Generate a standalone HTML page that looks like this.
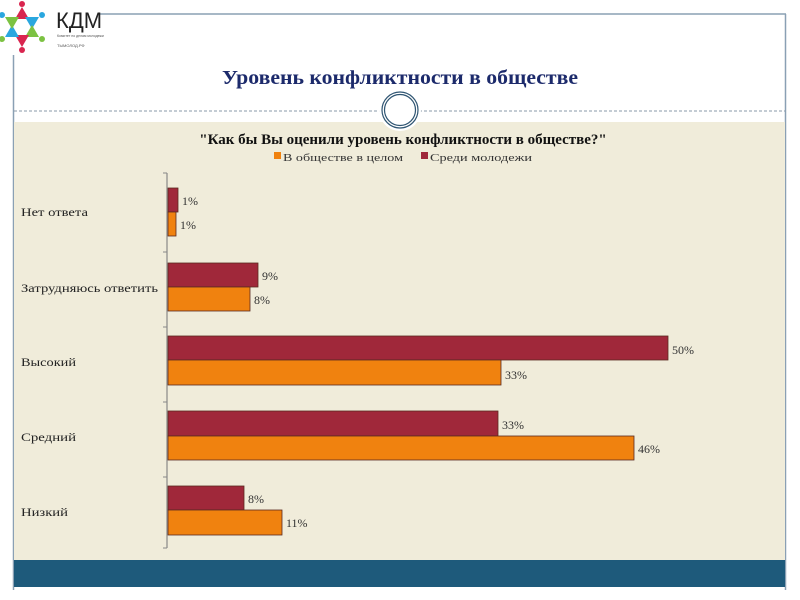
<!DOCTYPE html>
<html><head><meta charset="utf-8"><style>
html,body{margin:0;padding:0;background:#fff;width:800px;height:600px;overflow:hidden}
svg{display:block}
text{font-family:"Liberation Serif",serif}
</style></head><body>
<svg width="800" height="600" viewBox="0 0 800 600">
<line x1="100" y1="14" x2="786" y2="14" stroke="#8aa0b4" stroke-width="1.5"/>
<line x1="13.5" y1="55" x2="13.5" y2="590" stroke="#8aa0b4" stroke-width="1.5"/>
<line x1="785.5" y1="14" x2="785.5" y2="590" stroke="#8aa0b4" stroke-width="1.5"/>
<g transform="translate(22,27)">
 <polygon points="0,-20 7,-8 -7,-8" fill="#d9254f"/>
 <polygon points="17,-10 10,2 3,-10" fill="#2aa7df"/>
 <polygon points="17,10 3,10 10,-2" fill="#7cc242"/>
 <polygon points="0,20 -7,8 7,8" fill="#d9254f"/>
 <polygon points="-17,10 -10,-2 -3,10" fill="#2aa7df"/>
 <polygon points="-17,-10 -3,-10 -10,2" fill="#7cc242"/>
 <circle cx="0" cy="-23" r="3" fill="#d9254f"/><circle cx="0" cy="23" r="3" fill="#d9254f"/>
 <circle cx="-20" cy="-12" r="3" fill="#2aa7df"/><circle cx="20" cy="12" r="3" fill="#7cc242"/>
 <circle cx="20" cy="-12" r="3" fill="#2aa7df"/><circle cx="-20" cy="12" r="3" fill="#7cc242"/>
</g>
<text x="56" y="28" font-size="22" fill="#222" style="font-family:'Liberation Sans',sans-serif">КДМ</text>
<text x="57" y="37" font-size="3.5" fill="#555" style="font-family:'Liberation Sans',sans-serif">Комитет по делам молодежи</text>
<text x="57" y="47" font-size="4" fill="#555" style="font-family:'Liberation Sans',sans-serif">ТЫМОЛОД.РФ</text>
<text x="222" y="84" textLength="356" lengthAdjust="spacingAndGlyphs" font-size="20" font-weight="bold" fill="#1c2a6b">Уровень конфликтности в обществе</text>
<line x1="14" y1="111" x2="785" y2="111" stroke="#8a9aa8" stroke-dasharray="3,2" stroke-width="1"/>
<rect x="14" y="122" width="771" height="438" fill="#f0ecda"/>
<rect x="14" y="560" width="771" height="27" fill="#1e5a7b"/>
<circle cx="400" cy="110" r="21" fill="#fff"/>
<circle cx="400" cy="110" r="18" fill="#fff" stroke="#2f5572" stroke-width="1.2"/>
<circle cx="400" cy="110" r="15.5" fill="#fff" stroke="#2f5572" stroke-width="1.2"/>
<text x="403" y="144" text-anchor="middle" font-size="15" font-weight="bold" fill="#111">"Как бы Вы оценили уровень конфликтности в обществе?"</text>
<rect x="274" y="152" width="7" height="7" fill="#f0820f"/>
<text x="283" y="161" textLength="120" lengthAdjust="spacingAndGlyphs" font-size="11" fill="#333">В обществе в целом</text>
<rect x="421" y="152" width="7" height="7" fill="#a0283a"/>
<text x="430" y="161" textLength="102" lengthAdjust="spacingAndGlyphs" font-size="11" fill="#333">Среди молодежи</text>
<line x1="167" y1="173" x2="167" y2="548" stroke="#888" stroke-width="1.2"/>
<g stroke="#888" stroke-width="1"><line x1="163" y1="173" x2="167" y2="173"/><line x1="163" y1="252" x2="167" y2="252"/><line x1="163" y1="327" x2="167" y2="327"/><line x1="163" y1="402" x2="167" y2="402"/><line x1="163" y1="477" x2="167" y2="477"/><line x1="163" y1="548" x2="167" y2="548"/></g>
<g stroke="#5a2a20" stroke-width="0.8">
<rect x="168" y="188" width="10" height="24" fill="#a0283a"/><rect x="168" y="212" width="8" height="24" fill="#f0820f"/>
<rect x="168" y="263" width="90" height="24" fill="#a0283a"/><rect x="168" y="287" width="82" height="24" fill="#f0820f"/>
<rect x="168" y="336" width="500" height="24" fill="#a0283a"/><rect x="168" y="360" width="333" height="25" fill="#f0820f"/>
<rect x="168" y="411" width="330" height="25" fill="#a0283a"/><rect x="168" y="436" width="466" height="24" fill="#f0820f"/>
<rect x="168" y="486" width="76" height="24" fill="#a0283a"/><rect x="168" y="510" width="114" height="25" fill="#f0820f"/>
</g>
<g font-size="12" fill="#333">
<text x="182" y="205">1%</text><text x="180" y="229">1%</text>
<text x="262" y="280">9%</text><text x="254" y="304">8%</text>
<text x="672" y="354">50%</text><text x="505" y="379">33%</text>
<text x="502" y="429">33%</text><text x="638" y="453">46%</text>
<text x="248" y="503">8%</text><text x="286" y="527">11%</text>
</g>
<g font-size="12" fill="#222">
<text x="21" y="216" textLength="67" lengthAdjust="spacingAndGlyphs">Нет ответа</text>
<text x="21" y="292" textLength="137" lengthAdjust="spacingAndGlyphs">Затрудняюсь ответить</text>
<text x="21" y="366" textLength="55" lengthAdjust="spacingAndGlyphs">Высокий</text>
<text x="21" y="441" textLength="55" lengthAdjust="spacingAndGlyphs">Средний</text>
<text x="21" y="516" textLength="47" lengthAdjust="spacingAndGlyphs">Низкий</text>
</g>
</svg>
</body></html>
